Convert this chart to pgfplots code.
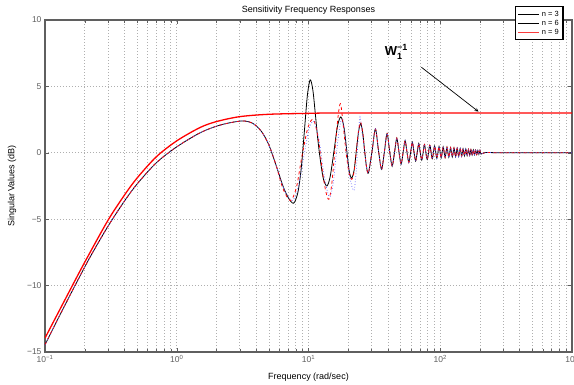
\documentclass[border=0pt]{standalone}
\usepackage{pgfplots}
\pgfplotsset{compat=1.18}
\usepackage{fontspec}
\setmainfont{Liberation Sans}
\definecolor{axgray}{RGB}{95,95,95}
\definecolor{lblgray}{RGB}{95,95,95}
\definecolor{gridgray}{RGB}{175,175,175}
\definecolor{mblue}{RGB}{90,90,255}
\definecolor{legred}{RGB}{250,60,60}
\begin{document}
\begin{tikzpicture}
\begin{axis}[
 name=ax,
 scale only axis, width=527pt, height=332pt,
 xmode=log, xmin=0.1, xmax=1000, ymin=-15, ymax=10,
 xtick={0.1,1,10,100,1000},
 minor xtick={0.2,0.3,0.4,0.5,0.6,0.7,0.8,0.9,2,3,4,5,6,7,8,9,20,30,40,50,60,70,80,90,200,300,400,500,600,700,800,900},
 xticklabels={10\textsuperscript{−1},10\textsuperscript{0},10\textsuperscript{1},10\textsuperscript{2},10\textsuperscript{3}},
 ytick={-15,-10,-5,0,5,10},
 yticklabels={−15,−10,−5,0,5,10},
 grid=both,
 major grid style={gridgray, line width=0.6pt, dash pattern=on 0.6pt off 2.4pt},
 minor grid style={gridgray, line width=0.6pt, dash pattern=on 0.6pt off 2.4pt},
 axis line style={axgray, line width=1.1pt},
 tick style={axgray},
 tick label style={lblgray, font=\fontsize{8.5}{9}\selectfont},
 xlabel={Frequency (rad/sec)},
 ylabel={Singular Values (dB)},
 title={Sensitivity Frequency Responses},
 every axis title shift=0pt,
 xlabel style={at={(axis description cs:0.5,-0.0753)}, anchor=center, font=\fontsize{9}{10}\selectfont},
 ylabel style={at={(axis description cs:-0.0626,0.5)}, anchor=center, font=\fontsize{9}{10}\selectfont},
 title style={at={(axis description cs:0.5,1.03)}, anchor=center, font=\fontsize{9}{10}\selectfont},
 legend style={name=leg, at={(0.983,1.04)}, anchor=north east, draw=none, text=black,
   font=\fontsize{7.5}{8}\selectfont, inner sep=2pt, row sep=-1.8pt, fill=white},
 legend cell align=left,
 legend image code/.code={\draw[line width=1pt, #1] (0,0) -- (0.75cm,0);},
]
\addlegendimage{color=black}
\addlegendentry{n = 3}
\addlegendimage{color=black}
\addlegendentry{n = 6}
\addlegendimage{color=legred}
\addlegendentry{n = 9}

% n = 3 (solid black)
\addplot[black, line width=0.8pt, smooth, forget plot] coordinates {
(0.1,-14.45) (0.13,-12.2) (0.17,-9.95) (0.22,-7.85) (0.3,-5.55) (0.4,-3.65) (0.5,-2.35) (0.7,-0.75) (1,0.45) (1.5,1.5) (2,2.0) (2.5,2.25) (3.2,2.4) (3.8,2.2) (4.4,1.6) (5,0.6) (5.7,-1.0) (6.4,-2.5) (7,-3.35) (7.7,-3.8) (8.3,-3.0) (8.8,-1.2) (9.3,1.6) (9.8,4.3) (10.3,5.5) (10.8,4.7) (11.3,2.8) (11.8,0.9) (12.4,-0.8) (13,-2.0) (13.8,-2.5) (14.6,-1.8) (15.6,0.1) (16.6,2.0) (17.6,2.7) (18.6,1.9) (19.5,0.2) (20.4,-1.4) (21.25,-1.9) (22.2,-1.3) (23.1,0.2) (24,1.6) (24.9,2.2) (25.8,1.5) (26.7,0.1) (27.6,-1.1) (28.55,-1.5) (30.4,0.15) (32.2,1.8) (34,0.15) (35.85,-1.25) (37.7,0.1) (39.5,1.45) (41.3,0.1) (43.15,-1.0) (45,0.05) (46.8,1.1) (48.6,0.05) (50.45,-0.85) (52.3,0.05) (54.1,0.92) (55.9,0.05) (57.75,-0.72) (59.6,0.04) (61.4,0.8) (63.2,0.04) (65.05,-0.62) (66.9,0.04) (68.7,0.7) (70.5,0.03) (72.35,-0.55) (74.2,0.03) (76,0.62) (79.65,-0.5) (83.3,0.56) (86.95,-0.45) (90.6,0.51) (94.25,-0.41) (97.9,0.47) (101.55,-0.38) (105.2,0.44) (108.85,-0.35) (112.5,0.41) (116.15,-0.33) (119.8,0.38) (123.45,-0.31) (127.1,0.36) (130.75,-0.29) (134.4,0.34) (138.05,-0.27) (141.7,0.32) (145.35,-0.25) (149,0.3) (152.65,-0.23) (156.3,0.28) (159.95,-0.21) (163.6,0.26) (167.25,-0.19) (170.9,0.24) (174.55,-0.17) (178.2,0.22) (181.85,-0.15) (185.5,0.2) (189.15,-0.13) (192.8,0.18) (196.45,-0.11) (200.1,0.16) (203.75,-0.1) (220,0.02) (300,0) (1000,0)
};

% n = 6 (dashed red)
\addplot[red, line width=0.8pt, dashed, smooth, forget plot] coordinates {
(0.1,-14.45) (0.13,-12.2) (0.17,-9.95) (0.22,-7.85) (0.3,-5.55) (0.4,-3.65) (0.5,-2.35) (0.7,-0.75) (1,0.45) (1.5,1.5) (2,2.0) (2.5,2.25) (3.2,2.4) (3.8,2.2) (4.4,1.6) (5,0.6) (5.7,-1.0) (6.4,-2.7) (7.3,-3.6) (8.1,-2.6) (8.9,-0.3) (9.9,1.9) (10.9,2.5) (11.9,1.0) (12.8,-1.5) (13.6,-3.0) (14.3,-3.5) (15.0,-2.4) (15.9,0.3) (16.8,2.8) (17.5,3.7) (18.3,2.2) (19.3,0.0) (20.3,-1.5) (21.3,-2.0) (22.2,-1.4) (23.1,0.2) (24,1.7) (24.9,2.3) (25.8,1.5) (26.7,0.1) (27.6,-1.1) (28.55,-1.5) (30.4,0.15) (32.2,1.8) (34,0.15) (35.85,-1.25) (37.7,0.1) (39.5,1.45) (41.3,0.1) (43.15,-1.0) (45,0.05) (46.8,1.1) (48.6,0.05) (50.45,-0.85) (52.3,0.05) (54.1,0.92) (55.9,0.05) (57.75,-0.72) (59.6,0.04) (61.4,0.8) (63.2,0.04) (65.05,-0.62) (66.9,0.04) (68.7,0.7) (70.5,0.03) (72.35,-0.55) (74.2,0.03) (76,0.62) (79.65,-0.5) (83.3,0.56) (86.95,-0.45) (90.6,0.51) (94.25,-0.41) (97.9,0.47) (101.55,-0.38) (105.2,0.44) (108.85,-0.35) (112.5,0.41) (116.15,-0.33) (119.8,0.38) (123.45,-0.31) (127.1,0.36) (130.75,-0.29) (134.4,0.34) (138.05,-0.27) (141.7,0.32) (145.35,-0.25) (149,0.3) (152.65,-0.23) (156.3,0.28) (159.95,-0.21) (163.6,0.26) (167.25,-0.19) (170.9,0.24) (174.55,-0.17) (178.2,0.22) (181.85,-0.15) (185.5,0.2) (189.15,-0.13) (192.8,0.18) (196.45,-0.11) (200.1,0.16) (203.75,-0.1) (220,0.02) (300,0) (1000,0)
};

% n = 9 (dotted blue)
\addplot[mblue, line width=0.7pt, dotted, smooth, forget plot] coordinates {
(0.1,-14.45) (0.13,-12.2) (0.17,-9.95) (0.22,-7.85) (0.3,-5.55) (0.4,-3.65) (0.5,-2.35) (0.7,-0.75) (1,0.45) (1.5,1.5) (2,2.0) (2.5,2.25) (3.2,2.4) (3.8,2.2) (4.4,1.6) (5,0.6) (5.7,-1.0) (6.5,-2.7) (7.5,-3.6) (8.3,-2.7) (9.2,-0.3) (10.1,1.8) (11.0,2.35) (12.0,1.0) (13.0,-1.4) (13.9,-2.9) (14.6,-3.3) (15.4,-2.3) (16.3,0.0) (17.2,1.9) (18.0,2.5) (19.0,1.2) (20.2,-1.3) (21.3,-2.5) (22.2,-2.8) (23,-1.5) (23.8,1.0) (24.6,2.7) (25.5,1.5) (26.7,0.1) (27.6,-1.1) (28.55,-1.5) (30.4,0.15) (32.2,1.8) (34,0.15) (35.85,-1.25) (37.7,0.1) (39.5,1.45) (41.3,0.1) (43.15,-1.0) (45,0.05) (46.8,1.1) (48.6,0.05) (50.45,-0.85) (52.3,0.05) (54.1,0.92) (55.9,0.05) (57.75,-0.72) (59.6,0.04) (61.4,0.8) (63.2,0.04) (65.05,-0.62) (66.9,0.04) (68.7,0.7) (70.5,0.03) (72.35,-0.55) (74.2,0.03) (76,0.62) (79.65,-0.5) (83.3,0.56) (86.95,-0.45) (90.6,0.51) (94.25,-0.41) (97.9,0.47) (101.55,-0.38) (105.2,0.44) (108.85,-0.35) (112.5,0.41) (116.15,-0.33) (119.8,0.38) (123.45,-0.31) (127.1,0.36) (130.75,-0.29) (134.4,0.34) (138.05,-0.27) (141.7,0.32) (145.35,-0.25) (149,0.3) (152.65,-0.23) (156.3,0.28) (159.95,-0.21) (163.6,0.26) (167.25,-0.19) (170.9,0.24) (174.55,-0.17) (178.2,0.22) (181.85,-0.15) (185.5,0.2) (189.15,-0.13) (192.8,0.18) (196.45,-0.11) (200.1,0.16) (203.75,-0.1) (220,0.02) (300,0) (1000,0)
};

% W1^{-1} (solid red)
\addplot[red, line width=1.3pt, smooth, forget plot] coordinates {
(0.1,-13.95) (0.15,-10.6) (0.2,-8.25) (0.3,-5.1) (0.4,-3.2) (0.5,-1.9) (0.7,-0.3) (1,0.9) (1.5,1.9) (2,2.35) (3,2.72) (5,2.9) (10,2.97) (20,3.0) (1000,3.0)
};

\node[font=\fontsize{13}{14}\selectfont\bfseries, inner sep=0pt] at (axis cs:47,7.6)
  {W\rlap{\raisebox{0.8ex}{\fontsize{9}{10}\selectfont\bfseries −1}}\raisebox{-0.6ex}{\fontsize{9}{10}\selectfont\bfseries 1}\phantom{1}};
\draw[black, line width=0.7pt, -stealth] (axis cs:72,6.44) -- (axis cs:195,3.1);
\end{axis}
\draw[draw=black, line width=1.3pt] (leg.south west) rectangle (leg.north east);
\pgfresetboundingbox
\path[use as bounding box] ([xshift=-45pt,yshift=-33pt]ax.south west) rectangle ([xshift=2pt,yshift=20pt]ax.north east);
\end{tikzpicture}
\end{document}
